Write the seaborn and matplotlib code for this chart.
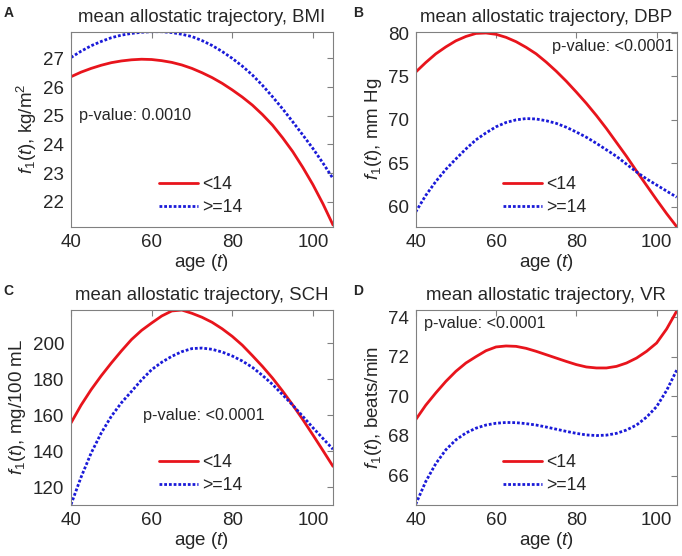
import matplotlib
matplotlib.use('Agg')
import matplotlib.pyplot as plt
import seaborn as sns

# ── data (age in years, every 2.5 y) ──
age = [40, 42.5, 45, 47.5, 50, 52.5, 55, 57.5, 60, 62.5, 65, 67.5, 70, 72.5,
       75, 77.5, 80, 82.5, 85, 87.5, 90, 92.5, 95, 97.5, 100, 102.5, 105]

bmi_lt14 = [26.36, 26.52, 26.65, 26.76, 26.85, 26.91, 26.95, 26.97, 26.96, 26.92,
            26.86, 26.77, 26.65, 26.50, 26.33, 26.13, 25.90, 25.65, 25.37, 25.04,
            24.67, 24.23, 23.75, 23.20, 22.60, 21.93, 21.19]
bmi_ge14 = [27.03, 27.25, 27.44, 27.59, 27.72, 27.81, 27.87, 27.91, 27.93, 27.93,
            27.90, 27.84, 27.76, 27.62, 27.45, 27.24, 27.00, 26.73, 26.42, 26.06,
            25.66, 25.24, 24.79, 24.33, 23.86, 23.35, 22.81]

dbp_lt14 = [75.5, 76.6, 77.6, 78.4, 79.1, 79.6, 79.95, 80.0, 79.85, 79.5,
            79.0, 78.35, 77.6, 76.65, 75.6, 74.45, 73.2, 71.9, 70.5, 69.0,
            67.4, 65.8, 64.1, 62.45, 60.8, 59.2, 57.7]
dbp_ge14 = [59.4, 61.3, 62.9, 64.3, 65.5, 66.65, 67.7, 68.5, 69.2, 69.7,
            70.0, 70.15, 70.1, 69.9, 69.6, 69.15, 68.6, 68.0, 67.3, 66.55,
            65.8, 64.9, 64.0, 63.2, 62.5, 61.8, 61.1]

sch_lt14 = [155.6, 165.5, 174.1, 181.8, 188.9, 195.6, 201.9, 207.0, 211.1, 215.0,
            217.8, 218.3, 216.5, 214.3, 211.5, 207.9, 203.7, 198.8, 193.0, 187.0,
            180.5, 173.3, 165.6, 157.5, 149.0, 140.3, 131.5]
sch_ge14 = [110.3, 125.5, 138.9, 150.0, 159.3, 166.8, 173.1, 179.5, 185.2, 189.3,
            192.6, 195.2, 196.9, 197.2, 196.5, 195.0, 192.8, 190.0, 186.5, 182.0,
            177.0, 171.3, 165.5, 159.3, 153.0, 147.0, 141.0]

vr_lt14 = [68.82, 69.55, 70.17, 70.75, 71.26, 71.68, 72.00, 72.30, 72.49, 72.54,
           72.52, 72.42, 72.27, 72.10, 71.93, 71.76, 71.60, 71.48, 71.43, 71.43,
           71.51, 71.68, 71.93, 72.27, 72.69, 73.40, 74.30]
vr_ge14 = [64.55, 65.70, 66.60, 67.30, 67.80, 68.15, 68.39, 68.55, 68.64, 68.68,
           68.67, 68.62, 68.55, 68.45, 68.34, 68.23, 68.13, 68.05, 68.02, 68.04,
           68.13, 68.30, 68.55, 68.95, 69.48, 70.30, 71.32]

group_labels = ['<14', '>=14']
panel_letters = ['A', 'B', 'C', 'D']
titles = ['mean allostatic trajectory, BMI', 'mean allostatic trajectory, DBP',
          'mean allostatic trajectory, SCH', 'mean allostatic trajectory, VR']
ylabels = [r'$f_1(t)$, kg/m$^2$', r'$f_1(t)$, mm Hg',
           r'$f_1(t)$, mg/100 mL', r'$f_1(t)$, beats/min']
pvalues = ['p-value: 0.0010', 'p-value: <0.0001', 'p-value: <0.0001', 'p-value: <0.0001']

# ── style ───────────────────────────────────────────────────
sns.set_theme(style='white')
plt.rcParams['font.family'] = ['Liberation Sans', 'DejaVu Sans']
plt.rcParams['mathtext.fontset'] = 'custom'
plt.rcParams['mathtext.rm'] = 'Liberation Sans'
plt.rcParams['mathtext.it'] = 'Liberation Sans:italic'

RED = '#e8141c'
BLUE = '#1a1ad8'
GRAY = '#808080'

W, H = 682, 556
fig = plt.figure(figsize=(W / 100, H / 100), dpi=100)

# axes boxes in pixels: left, top, right, bottom
boxes = [(71, 31.7, 333, 226.7), (415.7, 31.7, 676.7, 226.7),
         (71, 309.7, 333, 504.7), (415.7, 309.7, 676.7, 504.7)]
ylims = [(21.13, 27.93), (57.7, 80.15), (110.2, 218.5), (64.53, 74.37)]
yticks = [range(22, 28), range(60, 81, 5), range(120, 201, 20), range(66, 75, 2)]
series = [(bmi_lt14, bmi_ge14), (dbp_lt14, dbp_ge14),
          (sch_lt14, sch_ge14), (vr_lt14, vr_ge14)]
# p-value text: x, y (data), alignment
ptext = [(41.9, 25.0, 'left'), (104.3, 78.47, 'right'),
         (57.8, 159.6, 'left'), (42.1, 73.66, 'left')]
letter_pos = [(4, 13), (353, 13), (3, 291), (353, 291)]

for i in range(4):
    l, t, r, b = boxes[i]
    ax = fig.add_axes([l / W, 1 - b / H, (r - l) / W, (b - t) / H])
    lt, ge = series[i]
    sns.lineplot(x=age, y=lt, color=RED, lw=2.0, label=group_labels[0], ax=ax)
    sns.lineplot(x=age, y=ge, color=BLUE, lw=2.0, linestyle=(0, (1, 0.7)),
                 label=group_labels[1], ax=ax)

    ax.set_xlim(40, 105)
    ax.set_ylim(*ylims[i])
    ax.set_xticks([40, 60, 80, 100])
    ax.set_yticks(list(yticks[i]))
    ax.tick_params(direction='in', length=4, width=0.8, color=GRAY,
                   top=True, right=True, labelsize=13.5, pad=5)
    for s in ax.spines.values():
        s.set_color(GRAY)
        s.set_linewidth(0.8)

    ax.set_title(titles[i], fontsize=13.4, pad=7)
    ax.set_xlabel(r'age ($t$)', fontsize=13.5, labelpad=1)
    ax.set_ylabel(ylabels[i], fontsize=13.5, labelpad=3)

    px, py, ha = ptext[i]
    ax.text(px, py, pvalues[i], fontsize=11.7, ha=ha, va='center')

    ax.legend(loc='center left', bbox_to_anchor=(0.335, 0.157), frameon=False,
              handlelength=2.2, handletextpad=0.25, labelspacing=0.3,
              borderaxespad=0, borderpad=0, fontsize=12.7)

    lx, ly = letter_pos[i]
    fig.text(lx / W, 1 - ly / H, panel_letters[i], fontsize=10,
             fontweight='bold', ha='left', va='center')

fig.savefig('out.png', dpi=100)
plt.close()
